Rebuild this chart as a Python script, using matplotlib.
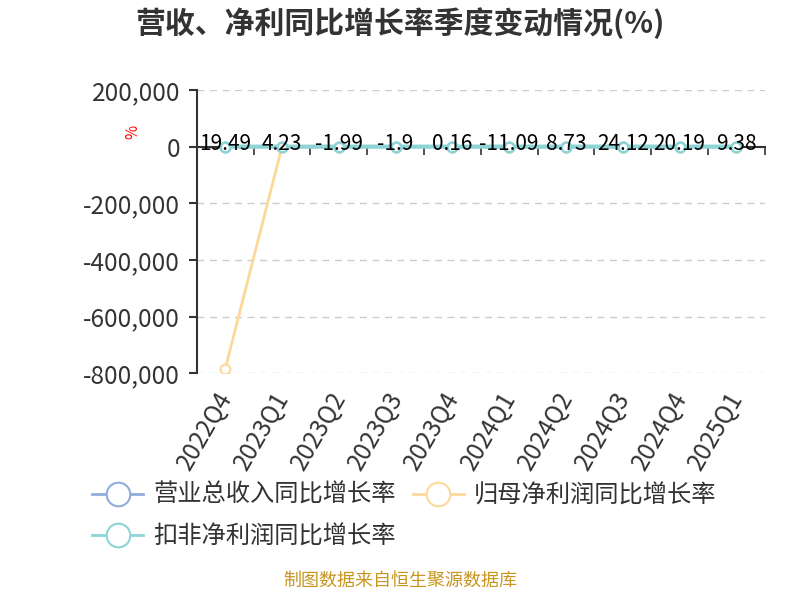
import matplotlib
matplotlib.use("Agg")
import matplotlib.pyplot as plt
from matplotlib.lines import Line2D
from matplotlib.ticker import FuncFormatter, FixedLocator
import numpy as np

plt.rcParams['font.family'] = ['Noto Sans CJK SC', 'DejaVu Sans']

# 数据
quarters = ['2022Q4', '2023Q1', '2023Q2', '2023Q3', '2023Q4',
            '2024Q1', '2024Q2', '2024Q3', '2024Q4', '2025Q1']
revenue_yoy = [19.49, 4.23, -1.99, -1.9, 0.16, -11.09, 8.73, 24.12, 20.19, 9.38]
netprofit_yoy = [-785000, 35.2, -12.5, 8.4, -20.3, 15.6, 22.1, 40.5, 18.7, 12.3]
deducted_yoy = [25.4, -8.6, -15.2, 5.1, -30.4, 10.2, 28.9, 45.3, 22.6, 14.8]
series_names = ['营业总收入同比增长率', '归母净利润同比增长率', '扣非净利润同比增长率']

c_blue = '#91acdc'
c_orange = '#fdd89a'
c_teal = '#8dd4d6'

fig = plt.figure(figsize=(8, 6), dpi=100)
ax = fig.add_axes([0.246, 0.378, 0.71, 0.472])

x = np.arange(len(quarters))
ax.plot(x, revenue_yoy, color=c_blue, lw=2, marker='o', ms=7,
        mfc='white', mec=c_blue, mew=1.5, zorder=3)
ax.plot(x, netprofit_yoy, color=c_orange, lw=2, marker='o', ms=7,
        mfc='white', mec=c_orange, mew=1.5, zorder=4)
ax.plot(x, deducted_yoy, color=c_teal, lw=3, marker='o', ms=7,
        mfc='white', mec=c_teal, mew=1.8, zorder=5)

# 数值标签
for xi, v in zip(x, revenue_yoy):
    ax.annotate(f'{v:g}', xy=(xi, 0), xytext=(0, 2), textcoords='offset points',
                ha='center', va='center', fontsize=15, color='black', zorder=6)

ax.set_xlim(-0.5, len(quarters) - 0.5)
ax.set_ylim(-800000, 200000)
ax.set_yticks(np.arange(-800000, 200001, 200000))
ax.yaxis.set_major_formatter(FuncFormatter(lambda v, p: f'{int(v):,}'))
ax.grid(axis='y', color='#cccccc', ls=(0, (5, 4)), lw=1)
ax.set_axisbelow(True)

for s in ['top', 'right']:
    ax.spines[s].set_visible(False)
ax.spines['left'].set_color('#333333')
ax.spines['left'].set_linewidth(1.5)
ax.spines['bottom'].set_position(('data', 0))
ax.spines['bottom'].set_color('#333333')
ax.spines['bottom'].set_linewidth(1.5)

ax.tick_params(axis='y', labelsize=17.5, colors='#333333', length=6, width=1.5,
               labelcolor='#333333', pad=6)
ax.xaxis.set_major_locator(FixedLocator(np.arange(-0.5, len(quarters), 1)))
ax.tick_params(axis='x', which='major', length=6, width=1.2, colors='#333333',
               labelbottom=False)

# 分类标签放在图底部
for xi, q in zip(x, quarters):
    ax.annotate(q, xy=(xi, -800000), xytext=(-7, -10), textcoords='offset points',
                rotation=60, ha='right', va='top', fontsize=17.5, color='#333333',
                rotation_mode='anchor', annotation_clip=False)

fig.text(0.166, 0.78, '%', color='red', fontsize=11, rotation=90,
         ha='center', va='center')

fig.text(0.5, 0.962, '营收、净利同比增长率季度变动情况(%)', ha='center', va='center',
         fontsize=21.5, fontweight='bold', color='#333333')

colors = [c_blue, c_teal, c_orange]
labels = [series_names[0], series_names[2], series_names[1]]
handles = [Line2D([0], [0], color=c, lw=2, marker='o', ms=17, mfc='white',
                  mec=c, mew=1.5) for c in colors]
fig.legend(handles, labels, loc='upper left', bbox_to_anchor=(0.088, 0.233),
           ncol=2, frameon=False, fontsize=17.5, handlelength=2.1,
           columnspacing=0.7, handletextpad=0.4, labelspacing=0.65,
           labelcolor='#333333')

fig.text(0.5, 0.018, '制图数据来自恒生聚源数据库', ha='center', va='bottom',
         fontsize=13, color='#c8961e')

fig.savefig('out.png', dpi=100)
